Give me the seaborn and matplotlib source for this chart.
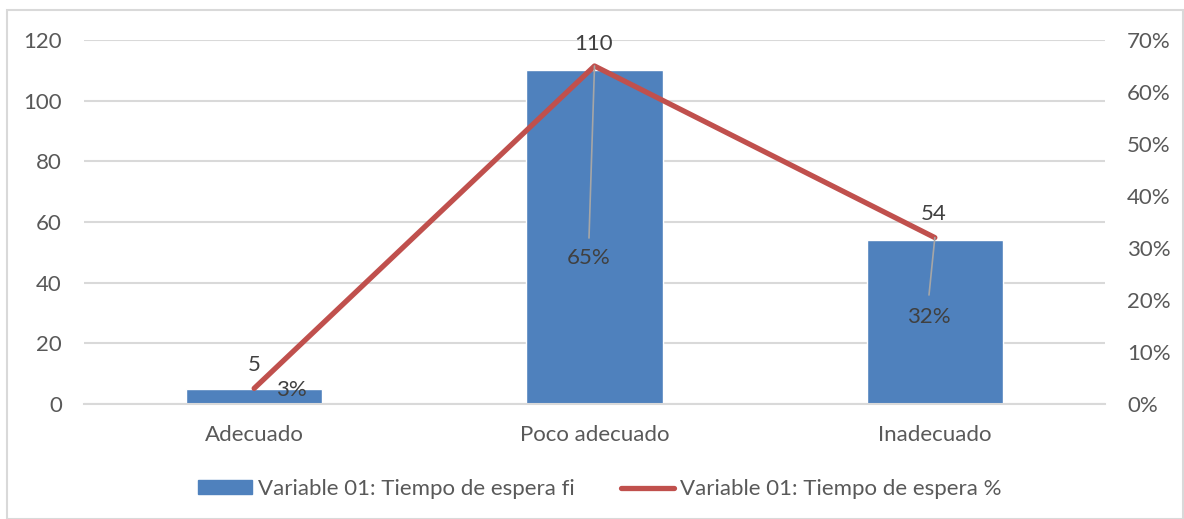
import matplotlib
matplotlib.use("Agg")
import matplotlib.pyplot as plt
import seaborn as sns
import pandas as pd
from matplotlib.patches import Rectangle, Patch
from matplotlib.lines import Line2D
from matplotlib.ticker import FuncFormatter

categories = ["Adecuado", "Poco adecuado", "Inadecuado"]
fi_values = [5, 110, 54]
pct_values = [0.03, 0.65, 0.32]
pct_labels = ["3%", "65%", "32%"]
bar_series = "Variable 01: Tiempo de espera fi"
line_series = "Variable 01: Tiempo de espera %"

sns.set_theme(style="white")
plt.rcParams["font.family"] = ["Lato", "DejaVu Sans"]

TXT = "#595959"
BLUE = "#4F81BD"
RED = "#C0504D"
GRID = "#D9D9D9"
FS = 16

df = pd.DataFrame({"cat": categories, "fi": fi_values, "pct": pct_values})

fig = plt.figure(figsize=(11.84, 5.19), dpi=100)
ax = fig.add_axes([84/1184, 1-404/519, (1105-84)/1184, 364/519])

sns.barplot(data=df, x="cat", y="fi", color=BLUE, width=0.4, saturation=1, ax=ax, zorder=2)
ax.set_ylim(0, 120)
ax.set_yticks(range(0, 121, 20))
ax.set_xlim(-0.5, 2.5)
ax.yaxis.grid(True, color=GRID, linewidth=1.5, zorder=0)
ax.set_axisbelow(True)
for s in ax.spines.values():
    s.set_visible(False)
ax.spines["bottom"].set_visible(True)
ax.spines["bottom"].set_color(GRID)
ax.spines["bottom"].set_linewidth(1.5)
ax.set_xlabel("")
ax.set_ylabel("")
ax.tick_params(axis="both", length=0, labelsize=FS, colors=TXT)
ax.tick_params(axis="y", pad=16)
ax.tick_params(axis="x", pad=15)

ax2 = ax.twinx()
sns.lineplot(data=df, x="cat", y="pct", color=RED, linewidth=3.8, ax=ax2, sort=False, zorder=3)
ax2.set_ylim(0, 0.7)
ax2.set_yticks([i/10 for i in range(0, 8)])
ax2.yaxis.set_major_formatter(FuncFormatter(lambda v, p: f"{round(v*100)}%"))
ax2.set_ylabel("")
for s in ax2.spines.values():
    s.set_visible(False)
ax2.tick_params(axis="y", length=0, labelsize=FS, colors=TXT, pad=16)

# bar value labels
bar_lbl_y = [365, 44, 214]
bar_lbl_x = [254, 594, 934]
def fig_to_data(ax_, px, py):
    disp = (px, 519 - py)
    return ax_.transData.inverted().transform(disp)

fig.canvas.draw()
for i, v in enumerate(fi_values):
    x, y = fig_to_data(ax, bar_lbl_x[i], bar_lbl_y[i])
    ax.text(x, y, str(v), ha="center", va="center", fontsize=FS, color="#404040", zorder=5)

# percent labels with leader lines
pct_pos = [(291, 390), (589, 258), (929, 317)]
leader_end = [None, (589, 238), (929, 295)]
for i, p in enumerate(pct_values):
    x, y = fig_to_data(ax2, *pct_pos[i])
    ax2.text(x, y, pct_labels[i], ha="center", va="center", fontsize=FS, color="#404040", zorder=6)
    if leader_end[i] is not None:
        ex, ey = fig_to_data(ax2, *leader_end[i])
        ax2.plot([i, ex], [p, ey], color="#A6A6A6", linewidth=1.2, zorder=4)

# legend
handles = [Patch(facecolor=BLUE, edgecolor=BLUE), Line2D([0], [0], color=RED, linewidth=3.8)]
leg = fig.legend(handles, [bar_series, line_series], loc="center", bbox_to_anchor=(600/1184, 1-489/519),
                 ncol=2, frameon=False, fontsize=FS, labelcolor=TXT, handlelength=2.4,
                 handleheight=0.55, handletextpad=0.27, columnspacing=2.1)

# chart border
fig.patches.append(Rectangle((7/1184, 0), 1176/1184, 509/519, transform=fig.transFigure,
                             fill=False, edgecolor=GRID, linewidth=1.5))

fig.savefig("out.png", dpi=100)
